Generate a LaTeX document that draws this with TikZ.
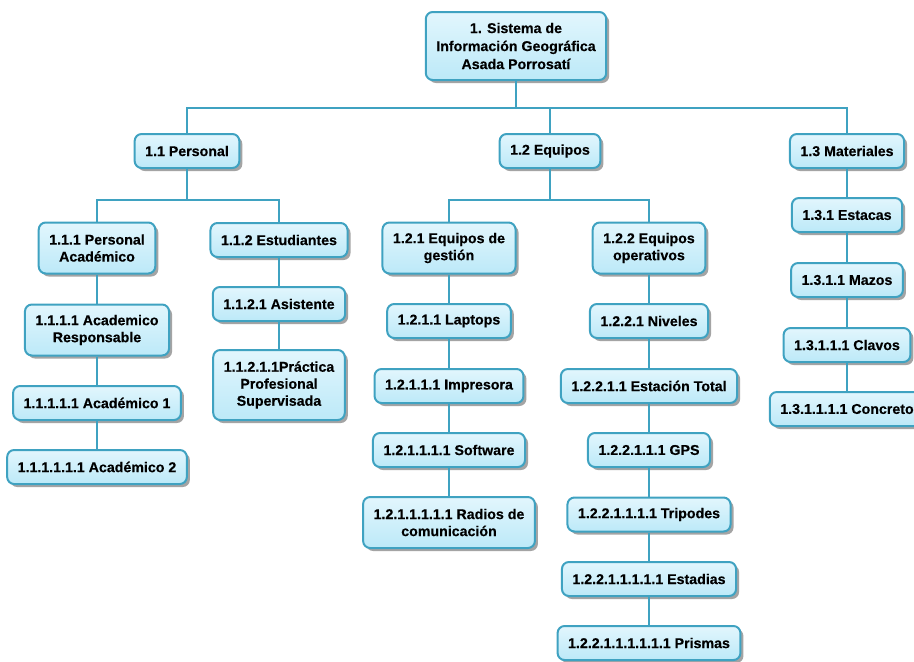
\documentclass[tikz,border=0pt]{standalone}
\usepackage{fontspec}
\setmainfont{Liberation Sans}
\newfontfamily\boxfont{Liberation Sans}[BoldFeatures={FakeBold=0.35}]
\usetikzlibrary{shadows}
\definecolor{edgeblue}{HTML}{3FA2C1}
\definecolor{filltop}{HTML}{E2F6FD}
\definecolor{fillbot}{HTML}{BCE9F8}
\tikzset{
  wbs/.style={draw=edgeblue, line width=2pt, rounded corners=7pt,
    top color=filltop, bottom color=fillbot,
    drop shadow={shadow xshift=3pt, shadow yshift=-3pt, fill=black!55, opacity=0.65},
    inner xsep=10.5pt, inner ysep=3pt, align=center,
    font=\fontsize{14.2}{17}\selectfont\boxfont\bfseries, minimum height=34pt},
  two/.style={wbs, minimum height=51pt},
  three/.style={wbs, minimum height=68pt},
  link/.style={draw=edgeblue, line width=2pt}
}
\begin{document}
\begin{tikzpicture}[x=1pt, y=-1pt]
\useasboundingbox (0,0) rectangle (914,662);

% root
\node[three, font=\fontsize{14.2}{18}\selectfont\boxfont\bfseries] (root) at (516,46) {1. Sistema de\\Información Geográfica\\Asada Porrosatí};

% first level
\node[wbs] (p) at (187,151) {1.1 Personal};
\node[wbs] (e) at (550,151) {1.2 Equipos};
\node[wbs] (m) at (847,151) {1.3 Materiales};

% personal branch
\node[two] (p1) at (97,248) {1.1.1 Personal\\Académico};
\node[wbs] (p2) at (279,240) {1.1.2 Estudiantes};
\node[two] (p11) at (97,330) {1.1.1.1 Academico\\Responsable};
\node[wbs] (p111) at (97,403) {1.1.1.1.1 Académico 1};
\node[wbs] (p1111) at (97,467) {1.1.1.1.1.1 Académico 2};
\node[wbs] (p21) at (279,304) {1.1.2.1 Asistente};
\node[three, minimum height=70pt] (p211) at (279,385) {1.1.2.1.1Práctica\\Profesional\\Supervisada};

% equipment branch
\node[two] (e1) at (449,248) {1.2.1 Equipos de\\gestión};
\node[two] (e2) at (649,248) {1.2.2 Equipos\\operativos};
\node[wbs] (e11) at (449,321) {1.2.1.1 Laptops};
\node[wbs] (e111) at (449,386) {1.2.1.1.1 Impresora};
\node[wbs] (e1111) at (449,450) {1.2.1.1.1.1 Software};
\node[two] (e11111) at (449,522.5) {1.2.1.1.1.1.1 Radios de\\comunicación};
\node[wbs] (e21) at (649,321) {1.2.2.1 Niveles};
\node[wbs] (e211) at (649,386) {1.2.2.1.1 Estación Total};
\node[wbs] (e2111) at (649,450) {1.2.2.1.1.1 GPS};
\node[wbs] (e21111) at (649,514.5) {1.2.2.1.1.1.1 Tripodes};
\node[wbs] (e211111) at (649,579) {1.2.2.1.1.1.1.1 Estadias};
\node[wbs] (e2111111) at (649,643) {1.2.2.1.1.1.1.1.1 Prismas};

% materials branch
\node[wbs] (m1) at (847,215) {1.3.1 Estacas};
\node[wbs] (m11) at (847,280) {1.3.1.1 Mazos};
\node[wbs] (m111) at (847,345) {1.3.1.1.1 Clavos};
\node[wbs] (m1111) at (847,409) {1.3.1.1.1.1 Concreto};

% junction points of the tree
\coordinate (j0) at (516,108);
\coordinate (jp) at (187,200);
\coordinate (je) at (550,200);

% connectors
\draw[link] (root.south) -- (j0);
\draw[link] (p.north) |- (j0);
\draw[link] (e.north) |- (j0);
\draw[link] (m.north) |- (j0);

\draw[link] (p.south) -- (jp);
\draw[link] (p1.north) |- (jp);
\draw[link] (p2.north) |- (jp);
\draw[link] (p1.south) -- (p11.north);
\draw[link] (p11.south) -- (p111.north);
\draw[link] (p111.south) -- (p1111.north);
\draw[link] (p2.south) -- (p21.north);
\draw[link] (p21.south) -- (p211.north);

\draw[link] (e.south) -- (je);
\draw[link] (e1.north) |- (je);
\draw[link] (e2.north) |- (je);
\draw[link] (e1.south) -- (e11.north);
\draw[link] (e11.south) -- (e111.north);
\draw[link] (e111.south) -- (e1111.north);
\draw[link] (e1111.south) -- (e11111.north);
\draw[link] (e2.south) -- (e21.north);
\draw[link] (e21.south) -- (e211.north);
\draw[link] (e211.south) -- (e2111.north);
\draw[link] (e2111.south) -- (e21111.north);
\draw[link] (e21111.south) -- (e211111.north);
\draw[link] (e211111.south) -- (e2111111.north);

\draw[link] (m.south) -- (m1.north);
\draw[link] (m1.south) -- (m11.north);
\draw[link] (m11.south) -- (m111.north);
\draw[link] (m111.south) -- (m1111.north);
\end{tikzpicture}
\end{document}
